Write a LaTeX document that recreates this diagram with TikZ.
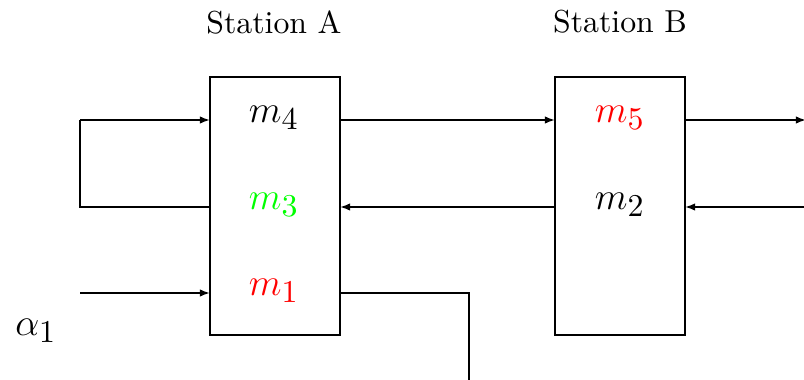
\documentclass[tikz,border=0pt]{standalone}
\usetikzlibrary{arrows.meta}
% larger subscripts for the operation labels
\DeclareMathSizes{12}{12}{9.6}{7}
\begin{document}
\begin{tikzpicture}[x=0.3145pt,y=-0.3145pt,
  line width=0.6pt,
  station/.style={draw,minimum width=130*0.3145pt,minimum height=258*0.3145pt,inner sep=0pt,outer sep=0pt},
  flow/.style={-{Latex[length=3.2pt,width=2.4pt]}},
  lbl/.style={font=\large},
  title/.style={font=\normalsize}]
  \clip (0,0) rectangle (804,379);
  \useasboundingbox (0,0) rectangle (804,379);

  % stations
  \node[station] (A) at (275,206) {};
  \node[station] (B) at (620,206) {};
  \node[title] (tA) at (274,22) {Station A};
  \node[title] (tB) at (620,22) {Station B};

  % operations in each station
  \node[lbl] (m4) at (274,118) {$m_4$};
  \node[lbl] (m3) at (274,205) {\color{green}$m_3$};
  \node[lbl] (m1) at (274,291) {\color{red}$m_1$};
  \node[lbl] (m5) at (620,118) {\color{red}$m_5$};
  \node[lbl] (m2) at (620,205) {$m_2$};
  \node[lbl] (al) at (36,331) {$\alpha_1$};

  % anchor points on the station borders
  \coordinate (A4w) at (210,120);
  \coordinate (A3w) at (210,207);
  \coordinate (A1w) at (210,293);
  \coordinate (A4e) at (340,120);
  \coordinate (A3e) at (340,207);
  \coordinate (A1e) at (340,293);
  \coordinate (B5w) at (555,120);
  \coordinate (B2w) at (555,207);
  \coordinate (B5e) at (685,120);
  \coordinate (B2e) at (685,207);

  % free ends
  \coordinate (loopTop) at (80,120);
  \coordinate (loopBot) at (80,207);
  \coordinate (inA) at (80,293);
  \coordinate (outR) at (806,120);
  \coordinate (inR) at (806,207);
  \coordinate (turn) at (469,293);
  \coordinate (down) at (469,385);

  % connectors
  \draw (A3w) -- (loopBot) -- (loopTop);
  \draw[flow] (loopTop) -- (A4w);
  \draw[flow] (inA) -- (A1w);
  \draw[flow] (A4e) -- (B5w);
  \draw[flow] (B2w) -- (A3e);
  \draw[flow] (B5e) -- (outR);
  \draw[flow] (inR) -- (B2e);
  \draw (A1e) -- (turn) -- (down);
\end{tikzpicture}
\end{document}
